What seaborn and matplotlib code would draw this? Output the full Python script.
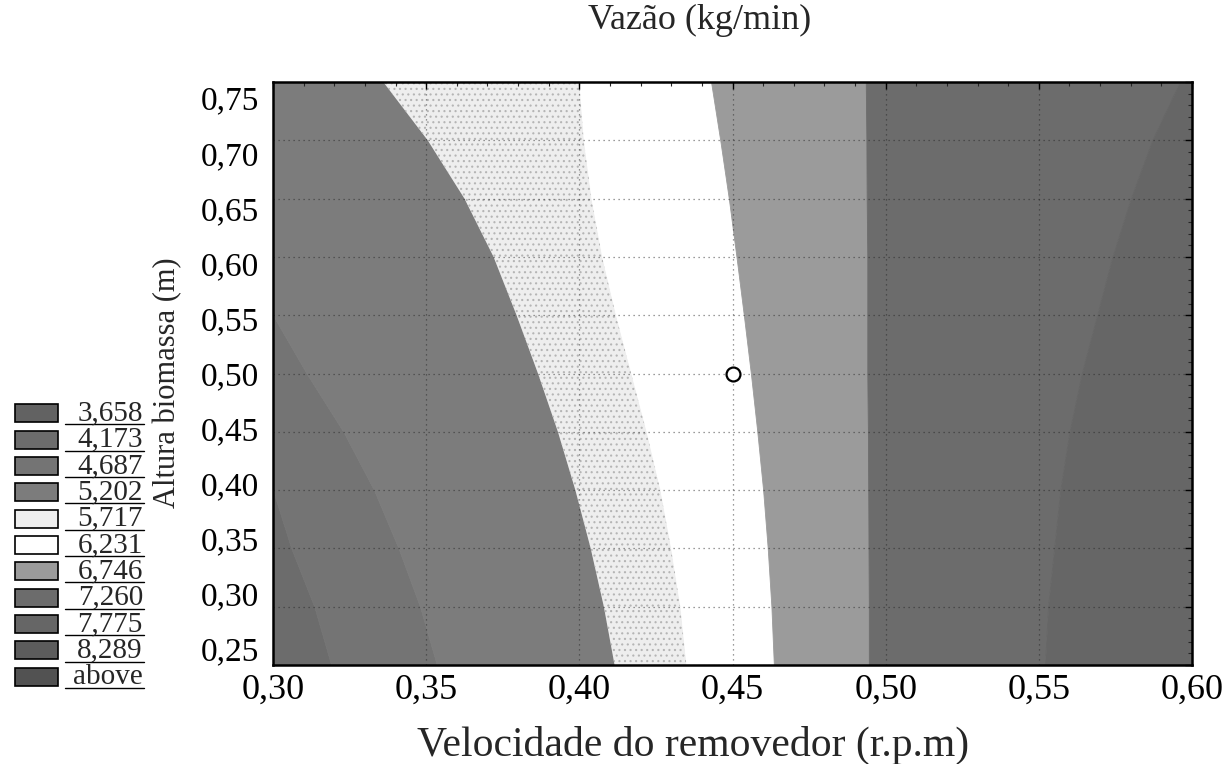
import matplotlib
matplotlib.use("Agg")
import matplotlib.pyplot as plt
import matplotlib.transforms as mtransforms
from matplotlib.patches import Rectangle
from matplotlib.ticker import MultipleLocator, FuncFormatter
import seaborn as sns

# Altura biomassa sample heights (top to bottom)
altura = [0.75, 0.70, 0.65, 0.60, 0.55, 0.50, 0.45, 0.40, 0.35, 0.30, 0.25]

# x position (velocidade) of each contour boundary at the heights above
edge_4173 = [0.300, 0.300, 0.300, 0.300, 0.300, 0.300, 0.300, 0.300, 0.306, 0.3135, 0.319]
edge_4687 = [0.300, 0.300, 0.300, 0.300, 0.300, 0.311, 0.323, 0.333, 0.341, 0.348, 0.3535]
edge_5202 = [0.336, 0.3505, 0.3625, 0.372, 0.3795, 0.3865, 0.393, 0.3987, 0.4037, 0.408, 0.4115]
edge_5717 = [0.400, 0.4015, 0.404, 0.4075, 0.412, 0.417, 0.422, 0.4265, 0.430, 0.433, 0.435]
edge_6231 = [0.443, 0.446, 0.4488, 0.4513, 0.4537, 0.456, 0.4581, 0.460, 0.4615, 0.4627, 0.4635]
edge_6746 = [0.4935, 0.4937, 0.4938, 0.494, 0.494, 0.494, 0.4942, 0.4943, 0.4944, 0.4945, 0.4945]
edge_7260 = [0.596, 0.587, 0.580, 0.574, 0.569, 0.564, 0.560, 0.557, 0.555, 0.553, 0.552]

# legend levels
level_labels = ["3,658", "4,173", "4,687", "5,202", "5,717", "6,231",
                "6,746", "7,260", "7,775", "8,289", "above"]
level_colors = ["#626262", "#6c6c6c", "#747474", "#7c7c7c", "#eeeeee", "#ffffff",
                "#9b9b9b", "#6c6c6c", "#666666", "#5c5c5c", "#525252"]

# axis ticks
x_ticks = [0.30, 0.35, 0.40, 0.45, 0.50, 0.55, 0.60]
y_ticks = [0.25, 0.30, 0.35, 0.40, 0.45, 0.50, 0.55, 0.60, 0.65, 0.70, 0.75]

# center point of the design
ponto_x = [0.45]
ponto_y = [0.50]

sns.set_style("white")
plt.rcParams['font.family'] = ['Liberation Serif', 'DejaVu Serif']
plt.rcParams['hatch.linewidth'] = 0.8

W, H = 1226, 764
fig = plt.figure(figsize=(W / 100, H / 100), dpi=100)
ax = fig.add_axes([273 / W, 1 - 665 / H, (1192 - 273) / W, (665 - 82) / H])

# bands between consecutive boundaries
x_left = [0.30] * len(altura)
x_right = [0.60] * len(altura)
bounds = [x_left, edge_4173, edge_4687, edge_5202, edge_5717, edge_6231, edge_6746, edge_7260, x_right]
band_colors = level_colors[1:9]
for i in range(len(bounds) - 1):
    col = band_colors[i]
    if level_labels[i + 1] == "5,717":
        ax.fill_betweenx(altura, bounds[i], bounds[i + 1], facecolor=col,
                         edgecolor="#b5b5b5", hatch="...", linewidth=0, zorder=1)
    else:
        ax.fill_betweenx(altura, bounds[i], bounds[i + 1], facecolor=col,
                         edgecolor=col, linewidth=0.6, zorder=1)

sns.scatterplot(x=ponto_x, y=ponto_y, ax=ax, s=100, color="white",
                edgecolor="black", linewidth=1.6, zorder=5, legend=False)

ax.set_xlim(0.30, 0.60)
ax.set_ylim(0.25, 0.75)
ax.set_xticks(x_ticks)
ax.set_yticks(y_ticks)
ax.xaxis.set_minor_locator(MultipleLocator(0.01))
ax.yaxis.set_minor_locator(MultipleLocator(0.01))
comma = FuncFormatter(lambda v, p: f"{v:.2f}".replace(".", ","))
ax.xaxis.set_major_formatter(comma)
ax.yaxis.set_major_formatter(comma)
ax.tick_params(which="major", direction="in", length=5, width=1,
               top=True, right=True, pad=8, colors="black")
ax.tick_params(axis="x", which="major", labelsize=26, pad=6)
ax.tick_params(axis="y", which="major", labelsize=24, pad=10)
ax.tick_params(which="minor", direction="in", length=3, width=0.8, top=True, right=True)
ax.set_axisbelow("line")
ax.grid(True, which="major", linestyle=(0, (1, 3)), color="#222222", linewidth=0.9, alpha=0.6)
for sp in ax.spines.values():
    sp.set_linewidth(1.8)
    sp.set_color("black")
ax.set_xlabel("")
ax.set_ylabel("")

# the scanned y labels sit a little closer to the middle than their ticks
for tick, v in zip(ax.yaxis.get_major_ticks(), y_ticks):
    dy = -(v - 0.5) / 0.25 * 0.16
    tick.label1.set_transform(tick.label1.get_transform()
                              + mtransforms.ScaledTranslation(0, dy, fig.dpi_scale_trans))

fig.text(700 / W, 1 - 20 / H, "Vazão (kg/min)", ha="center", va="center", fontsize=26)
fig.text(693 / W, 1 - 745 / H, "Velocidade do removedor (r.p.m)", ha="center",
         va="center", fontsize=30)
fig.text(168 / W, 1 - 383 / H, "Altura biomassa (m)", ha="center", va="center",
         rotation=90, fontsize=22)

# legend on the left, drawn as boxes with underlined values
lax = fig.add_axes([8 / W, 1 - 690 / H, 142 / W, 290 / H])
lax.set_xlim(0, 1)
lax.set_ylim(len(level_labels) - 0.5, -0.5)
lax.axis("off")
for i, (lab, col) in enumerate(zip(level_labels, level_colors)):
    lax.add_patch(Rectangle((0.05, i - 0.34), 0.30, 0.68, facecolor=col,
                            edgecolor="black", linewidth=1.2))
    lax.text(0.95, i, lab, ha="right", va="center", fontsize=21)
    lax.plot([0.40, 0.96], [i + 0.42, i + 0.42], color="black", linewidth=1)

fig.savefig("out.png", dpi=100)
